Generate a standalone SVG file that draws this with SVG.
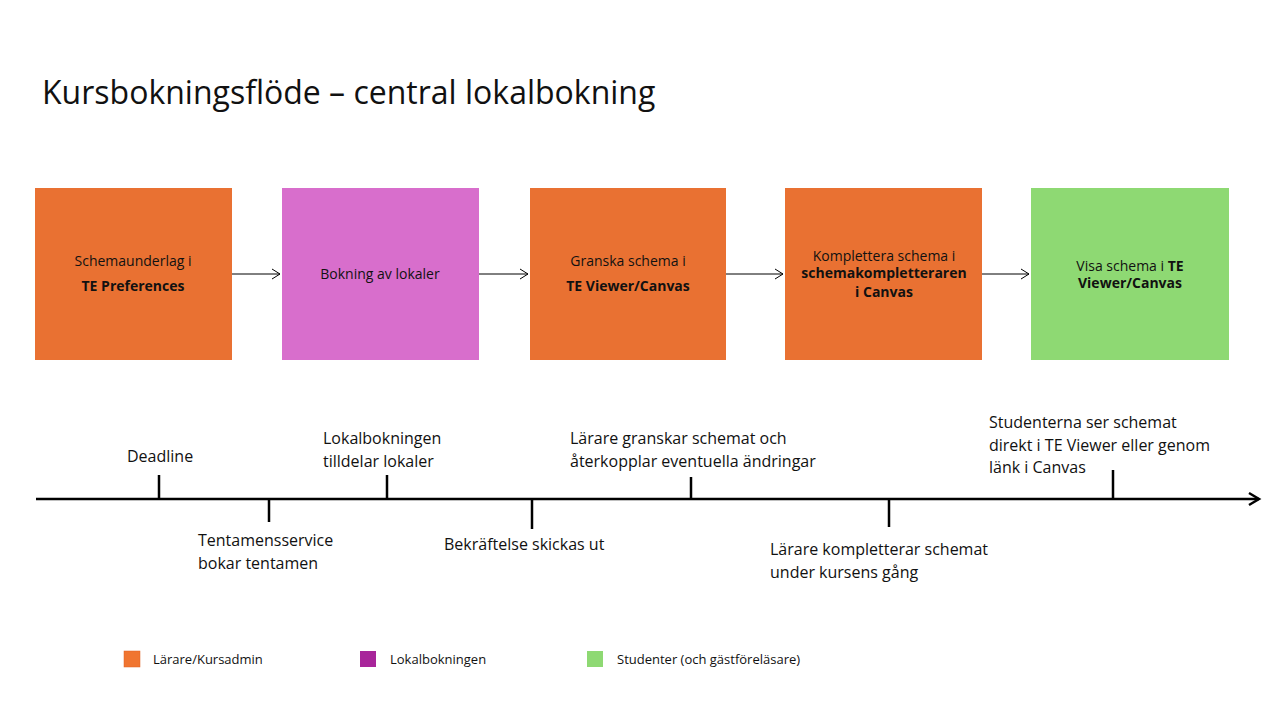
<svg xmlns="http://www.w3.org/2000/svg" width="1280" height="720" viewBox="0 0 1280 720">
<style>
text{font-family:"Open Sans","Liberation Sans",sans-serif;fill:#111}
.b{font-size:14px;text-anchor:middle}
.bb{font-weight:bold}
.t{font-size:16px}
.l{font-size:13px}
.c{stroke:#000;stroke-width:1;fill:none}
.tick{stroke:#000;stroke-width:2.5}
</style>
<defs>
<marker id="oa" markerWidth="12" markerHeight="12" refX="10" refY="6" orient="auto" markerUnits="userSpaceOnUse"><path d="M2,1 L10,6 L2,11" fill="none" stroke="#000" stroke-width="1"/></marker>
<marker id="ob" markerWidth="16" markerHeight="16" refX="13" refY="8" orient="auto" markerUnits="userSpaceOnUse"><path d="M3,2 L13,8 L3,14" fill="none" stroke="#000" stroke-width="2.5"/></marker>
</defs>
<rect width="1280" height="720" fill="#fff"/>
<text x="42" y="104" style="font-size:32px">Kursbokningsflöde – central lokalbokning</text>
<g id="n1"><rect x="35" y="188" width="197" height="172" fill="#E97132"/><text class="b" x="133" y="266">Schemaunderlag i</text><text class="b bb" x="133" y="291">TE Preferences</text></g>
<g id="n2"><rect x="282" y="188" width="197" height="172" fill="#D86ECC"/><text class="b" x="380" y="279">Bokning av lokaler</text></g>
<g id="n3"><rect x="530" y="188" width="196" height="172" fill="#E97132"/><text class="b" x="628" y="266">Granska schema i</text><text class="b bb" x="628" y="291">TE Viewer/Canvas</text></g>
<g id="n4"><rect x="785" y="188" width="197" height="172" fill="#E97132"/><text class="b" x="884" y="261">Komplettera schema i</text><text class="b bb" x="884" y="278">schemakompletteraren</text><text class="b bb" x="884" y="297">i Canvas</text></g>
<g id="n5"><rect x="1031" y="188" width="198" height="172" fill="#8ED973"/><text class="b" x="1130" y="271">Visa schema i <tspan class="bb">TE</tspan></text><text class="b bb" x="1130" y="288">Viewer/Canvas</text></g>
<g id="connectors">
<line class="c" x1="232" y1="274" x2="280" y2="274" marker-end="url(#oa)"/>
<line class="c" x1="479" y1="274" x2="528" y2="274" marker-end="url(#oa)"/>
<line class="c" x1="726" y1="274" x2="783" y2="274" marker-end="url(#oa)"/>
<line class="c" x1="982" y1="274" x2="1029" y2="274" marker-end="url(#oa)"/>
<line x1="36" y1="499" x2="1259" y2="499" stroke="#000" stroke-width="2.5" marker-end="url(#ob)"/>
</g>
<g id="timeline">
<line class="tick" x1="159" y1="475" x2="159" y2="499"/>
<line class="tick" x1="269" y1="499" x2="269" y2="522"/>
<line class="tick" x1="387" y1="475" x2="387" y2="499"/>
<line class="tick" x1="532" y1="499" x2="532" y2="529"/>
<line class="tick" x1="691" y1="477" x2="691" y2="499"/>
<line class="tick" x1="889" y1="499" x2="889" y2="527"/>
<line class="tick" x1="1113" y1="470" x2="1113" y2="499"/>
<text class="t" x="127" y="462">Deadline</text>
<text class="t" x="198" y="546">Tentamensservice</text><text class="t" x="198" y="569">bokar tentamen</text>
<text class="t" x="323" y="444">Lokalbokningen</text><text class="t" x="323" y="467">tilldelar lokaler</text>
<text class="t" x="444" y="550">Bekräftelse skickas ut</text>
<text class="t" x="570" y="444">Lärare granskar schemat och</text><text class="t" x="570" y="467">återkopplar eventuella ändringar</text>
<text class="t" x="770" y="555">Lärare kompletterar schemat</text><text class="t" x="770" y="578">under kursens gång</text>
<text class="t" x="989" y="428">Studenterna ser schemat</text><text class="t" x="989" y="451">direkt i TE Viewer eller genom</text><text class="t" x="989" y="473">länk i Canvas</text>
</g>
<g id="legend">
<rect x="124" y="651" width="16" height="16" fill="#F07530" stroke="#E06020" stroke-width="0.5"/><text class="l" x="153" y="664">Lärare/Kursadmin</text>
<rect x="360" y="651" width="16" height="16" fill="#A8259A"/><text class="l" x="390" y="664">Lokalbokningen</text>
<rect x="587" y="651" width="16" height="16" fill="#8ED973"/><text class="l" x="617" y="664">Studenter (och gästföreläsare)</text>
</g>
</svg>
